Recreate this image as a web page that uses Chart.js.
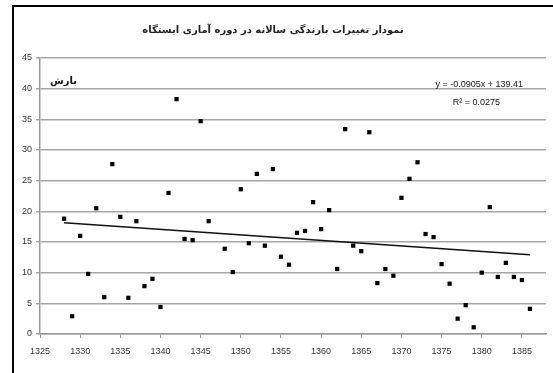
<!DOCTYPE html>
<html><head><meta charset="utf-8">
<script src="https://cdn.jsdelivr.net/npm/chart.js@4.4.1/dist/chart.umd.min.js"></script>
<style>
html,body{margin:0;padding:0;background:#fff;overflow:hidden;}
#wrap{position:absolute;left:0;top:0;width:553px;height:373px;}
#frame{position:absolute;left:12px;top:5px;width:600px;height:400px;border-left:2px solid #000;border-top:2px solid #000;}
canvas{position:absolute;left:0;top:0;}
</style></head>
<body>
<div id="wrap"><div id="frame"></div><canvas id="c" width="553" height="373"></canvas></div>
<script>
const chartTitle = "نمودار تغییرات بارندگی سالانه در دوره آماری ایستگاه";
const seriesLabel = "بارش";
const equationText = ["y = -0.0905x + 139.41", "R² = 0.0275"];
const years = [1328,1329,1330,1331,1332,1333,1334,1335,1336,1337,1338,1339,1340,1341,1342,1343,1344,1345,1346,
  1348,1349,1350,1351,1352,1353,1354,1355,1356,1357,1358,1359,1360,1361,1362,1363,1364,1365,1366,1367,1368,1369,
  1370,1371,1372,1373,1374,1375,1376,1377,1378,1379,1380,1381,1382,1383,1384,1385,1386];
const rainfall = [18.8,2.9,16.0,9.8,20.5,6.0,27.7,19.1,5.9,18.4,7.8,9.0,4.4,23.0,38.3,15.5,15.3,34.7,18.4,
  13.9,10.1,23.6,14.8,26.1,14.4,26.9,12.6,11.3,16.5,16.8,21.5,17.1,20.2,10.6,33.4,14.4,13.5,32.9,8.3,10.6,9.5,
  22.2,25.3,28.0,16.3,15.8,11.4,8.2,2.5,4.7,1.1,10.0,20.7,9.3,11.6,9.3,8.8,4.1];
const xTickValues = [1325,1330,1335,1340,1345,1350,1355,1360,1365,1370,1375,1380,1385];
const yTickValues = [0,5,10,15,20,25,30,35,40,45];

// least-squares linear trend (as the spreadsheet trendline)
const n = years.length;
const mx = years.reduce((a,b)=>a+b,0)/n, my = rainfall.reduce((a,b)=>a+b,0)/n;
let sxy=0,sxx=0; for(let i=0;i<n;i++){sxy+=(years[i]-mx)*(rainfall[i]-my);sxx+=(years[i]-mx)**2;}
const slope=sxy/sxx, icpt=my-slope*mx;
const trend=[{x:years[0],y:icpt+slope*years[0]},{x:years[n-1],y:icpt+slope*years[n-1]}];

const textPlugin = {
  id:'texts',
  afterDatasetsDraw(chart){
    const {ctx} = chart; const ys=chart.scales.y;
    ctx.save();
    ctx.fillStyle='#111';
    ctx.font='bold 10px "DejaVu Sans", sans-serif';
    ctx.textAlign='left'; ctx.textBaseline='middle';
    ctx.fillText(seriesLabel, 50, ys.getPixelForValue(41.2));
    ctx.font='9px "Liberation Sans", Arial, sans-serif';
    ctx.textAlign='right';
    ctx.fillText(equationText[0], 523, 85);
    ctx.fillText(equationText[1], 500, 103);
    ctx.restore();
  }
};

new Chart(document.getElementById('c'), {
  data:{datasets:[
    {type:'scatter', label:seriesLabel, data:years.map((y,i)=>({x:y,y:rainfall[i]})),
     pointStyle:'rect', pointRadius:3, pointBackgroundColor:'#000', pointBorderColor:'#000', pointBorderWidth:0, order:1},
    {type:'line', label:'trend', data:trend, borderColor:'#111', borderWidth:1.6, pointRadius:0, fill:false, order:2}
  ]},
  options:{
    responsive:false, animation:false,
    layout:{padding:{left:0,right:7,top:0,bottom:0}},
    plugins:{
      legend:{display:false}, tooltip:{enabled:false},
      title:{display:true, text:chartTitle, color:'#222', font:{size:10, family:'"DejaVu Sans", sans-serif'}, padding:{top:24,bottom:22}}
    },
    scales:{
      x:{type:'linear', min:1325, max:1388,
         afterBuildTicks(s){ s.ticks = xTickValues.map(v=>({value:v})); },
         afterFit(s){ s.height = 39; },
         grid:{display:true, drawOnChartArea:false, drawTicks:true, tickLength:4, color:'#999'},
         border:{display:true, color:'#999', width:1.5},
         ticks:{color:'#333', font:{size:9, family:'"Liberation Sans", Arial, sans-serif'}, padding:8, maxRotation:0, autoSkip:false,
                callback:(v)=>String(v)}},
      y:{min:0, max:45,
         afterBuildTicks(s){ s.ticks = yTickValues.map(v=>({value:v})); },
         afterFit(s){ s.width = 40; },
         grid:{color:'#a6a6a6', lineWidth:1.5, drawTicks:true, tickLength:4},
         border:{display:true, color:'#999', width:1.5},
         ticks:{color:'#333', font:{size:9, family:'"Liberation Sans", Arial, sans-serif'}, padding:4, callback:(v)=>String(v)}}
    }
  },
  plugins:[textPlugin]
});
</script>
</body></html>
